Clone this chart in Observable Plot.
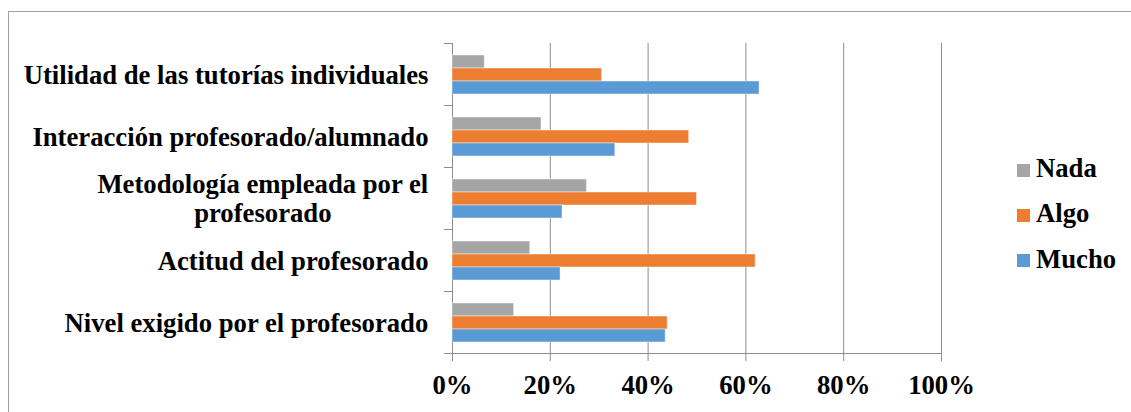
<!DOCTYPE html>
<html>
<head>
<meta charset="utf-8">
<script src="https://cdn.jsdelivr.net/npm/d3@7"></script>
<script src="https://cdn.jsdelivr.net/npm/@observablehq/plot@0.6"></script>
<style>
  body { margin: 0; background: #fff; }
  #wrap { position: relative; width: 1131px; height: 412px; overflow: hidden; background: #fff;
          font-family: "Liberation Serif", "Times New Roman", serif; }
  #chart svg { display: block; }
  #border { position: absolute; left: 8px; top: 11px; width: 1300px; height: 600px;
            border-left: 1px solid #a0a0a0; border-top: 1px solid #a0a0a0; pointer-events: none; }
  #legend { position: absolute; left: 1017px; top: 146px; }
  .item { display: flex; align-items: center; height: 45.3px; font-size: 26.7px; font-weight: bold; color: #000; line-height: 45px; }
  .sw { width: 13px; height: 13px; margin-right: 6px; margin-top: 3px; flex: none; }
</style>
</head>
<body>
<div id="wrap">
  <div id="chart"></div>
  <div id="border"></div>
  <div id="legend"></div>
</div>
<script>
// ---- data ----
const categories = [
  "Utilidad de las tutorías individuales",
  "Interacción profesorado/alumnado",
  "Metodología empleada por el\nprofesorado",
  "Actitud del profesorado",
  "Nivel exigido por el profesorado"
];
const series = ["Nada", "Algo", "Mucho"];
const nada  = [6.6, 18.2, 27.5, 15.9, 12.6];
const algo  = [30.6, 48.4, 50.0, 62.0, 44.0];
const mucho = [62.8, 33.3, 22.5, 22.1, 43.6];
const xTicks = [0, 20, 40, 60, 80, 100];
const colors = ["#A5A5A5", "#ED7D31", "#5B9BD5"];

const values = {Nada: nada, Algo: algo, Mucho: mucho};
const data = categories.flatMap((c, i) => series.map(s => ({category: c, series: s, value: values[s][i]})));

const FONT = "Liberation Serif";
const FS = 26.7;
const gridColor = "#8c8c8c";
const labelGap = 24;

// measure label lines so multi-line labels are centred on each other and right-aligned as a block
const ctx = document.createElement("canvas").getContext("2d");
ctx.font = `bold ${FS}px "${FONT}"`;
const labelMarks = categories.map(c => {
  const w = d3.max(c.split("\n"), l => ctx.measureText(l).width);
  return Plot.text([c], {
    fy: d => d, text: d => d,
    frameAnchor: "left", textAnchor: "middle", dx: -(labelGap + w / 2),
    lineHeight: 1.09, fontSize: FS, fontWeight: "bold", fontFamily: FONT, fill: "black"
  });
});

const chart = Plot.plot({
  width: 1131,
  height: 412,
  marginLeft: 452,
  marginRight: 190,
  marginTop: 41,
  marginBottom: 57,
  style: {fontFamily: FONT, fontWeight: "bold", fontSize: FS + "px", color: "black", background: "transparent", overflow: "visible"},
  x: {domain: [0, 100], axis: null},
  y: {domain: series, paddingInner: 0, paddingOuter: 0.75, axis: null},
  fy: {domain: categories, padding: 0, axis: null},
  color: {domain: series, range: colors},
  marks: [
    Plot.gridX(xTicks, {stroke: gridColor, strokeOpacity: 1, strokeWidth: 1}),
    Plot.frame({anchor: "top", insetLeft: -8, insetRight: 489, stroke: gridColor, strokeOpacity: 1}),
    Plot.frame({anchor: "bottom", insetLeft: -8, stroke: gridColor, strokeOpacity: 1, fy: [categories[categories.length - 1]]}),
    Plot.barX(data, {fy: "category", y: "series", x: "value", fill: "series", stroke: "white", strokeOpacity: 0.45, strokeWidth: 1}),
    Plot.axisX(xTicks, {
      tickSize: 8, tickPadding: 14, tickFormat: d => d + "%",
      stroke: gridColor, fill: "black",
      fontSize: FS, fontWeight: "bold", fontFamily: FONT, label: null
    }),
    ...labelMarks
  ]
});
document.getElementById("chart").appendChild(chart);

// legend
const legend = d3.select("#legend");
series.forEach((s, i) => {
  const item = legend.append("div").attr("class", "item");
  item.append("div").attr("class", "sw").style("background", colors[i]);
  item.append("span").text(s);
});
</script>
</body>
</html>
